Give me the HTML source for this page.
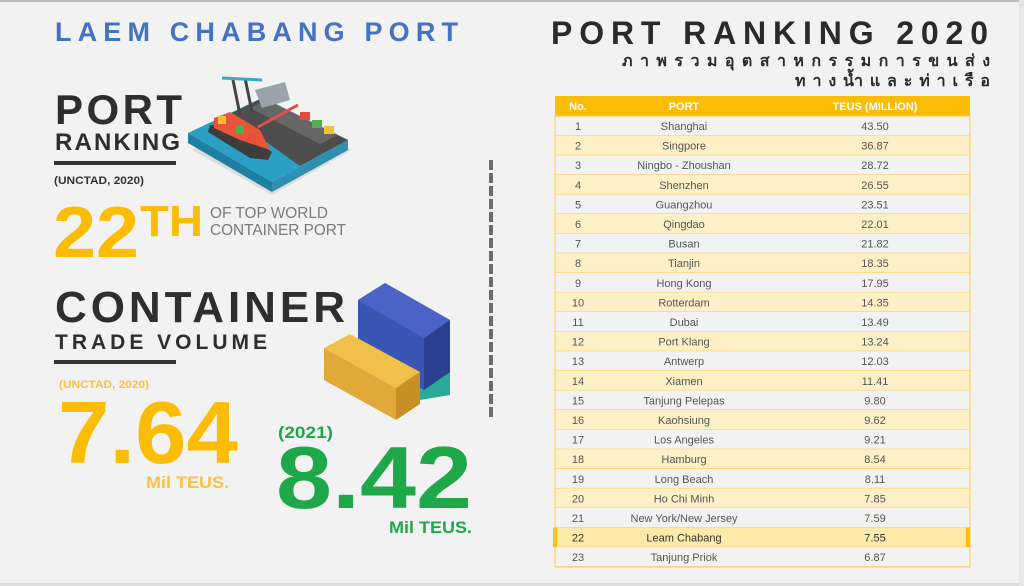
<!DOCTYPE html>
<html><head><meta charset="utf-8"><style>
html,body{margin:0;padding:0;background:#f2f2f2;}
svg{display:block;font-family:"Liberation Sans","Noto Sans CJK SC",sans-serif;}
</style></head><body>
<svg width="1024" height="586" viewBox="0 0 1024 586" xmlns="http://www.w3.org/2000/svg">
<rect width="1024" height="586" fill="#f2f2f2"/>
<rect x="0" y="0" width="1024" height="2" fill="#bdbdbd"/>
<rect x="0" y="583" width="1024" height="3" fill="#dcdcdc"/>
<rect x="1019" y="0" width="5" height="586" fill="#e6e6e6"/>

<text x="55" y="41" font-size="27" font-weight="bold" fill="#4472c4" textLength="403" lengthAdjust="spacing">LAEM CHABANG PORT</text>
<text x="55" y="124" font-size="42" font-weight="bold" fill="#2e2e2e" textLength="127" lengthAdjust="spacing">PORT</text>
<text x="55" y="150" font-size="24" font-weight="bold" fill="#2e2e2e" textLength="125" lengthAdjust="spacing">RANKING</text>
<rect x="54" y="161" width="122" height="4" fill="#333"/>
<text x="54" y="184" font-size="11" font-weight="bold" fill="#333" textLength="90" lengthAdjust="spacingAndGlyphs">(UNCTAD, 2020)</text>
<text x="53" y="257" font-size="72" font-weight="bold" fill="#fbbc05" textLength="86" lengthAdjust="spacingAndGlyphs">22</text>
<text x="140" y="236" font-size="44" font-weight="bold" fill="#fbbc05" textLength="63" lengthAdjust="spacingAndGlyphs">TH</text>
<text x="210" y="218" font-size="16" fill="#7a7a7a" textLength="118" lengthAdjust="spacingAndGlyphs">OF TOP WORLD</text>
<text x="210" y="235" font-size="16" fill="#7a7a7a" textLength="136" lengthAdjust="spacingAndGlyphs">CONTAINER PORT</text>

<polygon points="192,150 272,195 352,150 272,108" fill="#dcdcdc"/>
<polygon points="188,133 272,182 272,192 188,143" fill="#1f7fa0"/>
<polygon points="272,182 348,140 348,150 272,192" fill="#2e8fb0"/>
<polygon points="188,133 262,98 348,140 272,182" fill="#2a9fc5"/>
<polygon points="228,115 262,98 348,140 300,166" fill="#4d4d4d"/>
<polygon points="250,108 268,100 338,135 320,144" fill="#666"/>
<polygon points="210,125 232,125 272,152 268,160 250,158 208,132" fill="#3d3d3d"/>
<polygon points="214,118 230,112 260,130 270,150 240,140 214,128" fill="#e8553a"/>
<rect x="218" y="116" width="8" height="8" fill="#f2c230"/>
<rect x="236" y="126" width="8" height="8" fill="#4caf50"/>
<rect x="248" y="134" width="8" height="8" fill="#e94b3c"/>
<rect x="300" y="112" width="10" height="8" fill="#e94b3c"/>
<rect x="312" y="120" width="10" height="8" fill="#4caf50"/>
<rect x="324" y="126" width="10" height="8" fill="#f2c230"/>
<polygon points="255,90 285,82 290,100 262,108" fill="#9aa3aa"/>
<line x1="233" y1="80" x2="240" y2="115" stroke="#444" stroke-width="3"/>
<line x1="245" y1="78" x2="252" y2="112" stroke="#444" stroke-width="3"/>
<line x1="222" y1="78" x2="262" y2="80" stroke="#3aa9c0" stroke-width="3"/>
<line x1="258" y1="127" x2="298" y2="105" stroke="#d9534f" stroke-width="3"/>

<line x1="491" y1="160" x2="491" y2="418" stroke="#6b6b6b" stroke-width="4" stroke-dasharray="10,3"/>

<text x="55" y="322" font-size="44" font-weight="bold" fill="#2e2e2e" textLength="290" lengthAdjust="spacing">CONTAINER</text>
<text x="55" y="349" font-size="21" font-weight="bold" fill="#2e2e2e" textLength="212" lengthAdjust="spacing">TRADE VOLUME</text>
<rect x="54" y="360" width="122" height="4" fill="#333"/>
<text x="59" y="388" font-size="11" font-weight="bold" fill="#f6c343" textLength="90" lengthAdjust="spacingAndGlyphs">(UNCTAD, 2020)</text>
<text x="58" y="463" font-size="88" font-weight="bold" fill="#fbbc05" textLength="180" lengthAdjust="spacingAndGlyphs">7.64</text>
<text x="146" y="488" font-size="17" font-weight="bold" fill="#f6c343" textLength="83" lengthAdjust="spacingAndGlyphs">Mil TEUS.</text>
<text x="278" y="438" font-size="17" font-weight="bold" fill="#1fa84a" textLength="55" lengthAdjust="spacingAndGlyphs">(2021)</text>
<text x="276" y="508" font-size="88" font-weight="bold" fill="#1fa84a" textLength="196" lengthAdjust="spacingAndGlyphs">8.42</text>
<text x="389" y="533" font-size="17" font-weight="bold" fill="#1fa84a" textLength="83" lengthAdjust="spacingAndGlyphs">Mil TEUS.</text>

<polygon points="358,300 385,283 450,320 450,395 420,400 358,355" fill="#2aa89a"/>
<polygon points="358,300 385,283 450,320 424,338" fill="#4b63c9"/>
<polygon points="358,300 424,338 424,390 358,352" fill="#3b55b5"/>
<polygon points="424,338 450,320 450,372 424,390" fill="#2b3f8f"/>
<polygon points="324,348 350,334 420,372 396,388" fill="#f0c04a"/>
<polygon points="324,348 396,388 396,420 324,380" fill="#e1a93a"/>
<polygon points="396,388 420,372 420,404 396,420" fill="#c88f24"/>

<text x="551" y="44" font-size="32" font-weight="bold" fill="#2a2a2a" textLength="437" lengthAdjust="spacing">PORT RANKING 2020</text>
<text x="622" y="66" font-size="16" font-weight="bold" fill="#2a2a2a" textLength="368" lengthAdjust="spacing">ภาพรวมอุตสาหกรรมการขนส่ง</text>
<text x="795" y="86" font-size="16" font-weight="bold" fill="#2a2a2a" textLength="195" lengthAdjust="spacing">ทางน้ำและท่าเรือ</text>

<rect x="555" y="96" width="415" height="20" fill="#fbbc05"/>
<g font-size="11" font-weight="bold" fill="#fff" text-anchor="middle">
<text x="578" y="110">No.</text><text x="684" y="110">PORT</text><text x="875" y="110">TEUS (MILLION)</text>
</g>
<g id="rows" font-size="11" fill="#555" text-anchor="middle">
</g>
<rect x="555" y="116" width="415" height="451" fill="none" stroke="#f7cc4a" stroke-width="1"/>
</svg>
<script>
var d=[["Shanghai","43.50"],["Singpore","36.87"],["Ningbo - Zhoushan","28.72"],["Shenzhen","26.55"],["Guangzhou","23.51"],["Qingdao","22.01"],["Busan","21.82"],["Tianjin","18.35"],["Hong Kong","17.95"],["Rotterdam","14.35"],["Dubai","13.49"],["Port Klang","13.24"],["Antwerp","12.03"],["Xiamen","11.41"],["Tanjung Pelepas","9.80"],["Kaohsiung","9.62"],["Los Angeles","9.21"],["Hamburg","8.54"],["Long Beach","8.11"],["Ho Chi Minh","7.85"],["New York/New Jersey","7.59"],["Leam Chabang","7.55"],["Tanjung Priok","6.87"]];
var g=document.getElementById('rows'),h=19.6,s="";
for(var i=0;i<d.length;i++){var y=116+i*h;
var fill=(i%2==1)?"#fdf0c6":"#f2f2f2"; if(i==21)fill="#fde9a8";
s+='<rect x="555" y="'+y+'" width="415" height="'+h+'" fill="'+fill+'"/>';
s+='<line x1="555" x2="970" y1="'+(y+h)+'" y2="'+(y+h)+'" stroke="#f7cc4a" stroke-width="1"/>';
var c=(i==21)?' fill="#333"':'';
s+='<text x="578" y="'+(y+14)+'"'+c+'>'+(i+1)+'</text><text x="684" y="'+(y+14)+'"'+c+'>'+d[i][0]+'</text><text x="875" y="'+(y+14)+'"'+c+'>'+d[i][1]+'</text>';}
s+='<rect x="553" y="'+(116+21*h)+'" width="4" height="'+h+'" fill="#fbbc05"/><rect x="966" y="'+(116+21*h)+'" width="4" height="'+h+'" fill="#fbbc05"/>';
g.innerHTML=s;
</script>
</body></html>
